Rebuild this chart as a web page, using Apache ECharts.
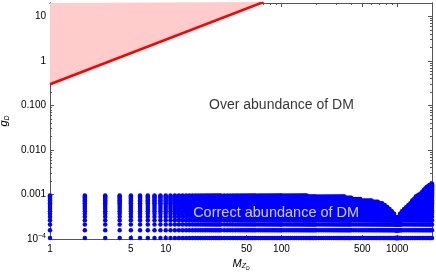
<!DOCTYPE html>
<html><head><meta charset="utf-8">
<script src="https://cdn.jsdelivr.net/npm/echarts@6/dist/echarts.min.js"></script>
<style>html,body{margin:0;padding:0;background:#fff}#c{width:436px;height:277px}</style>
</head><body><div id="c"></div>
<script>
// ---- data ----
const masses = [1,2,3,4,5,6,7,8,9,10,11,12,13,14,15,16,17,18,19,20,21,22,23,24,25,26,27,28,29,30,
  32,34,36,38,40,42,44,46,48,50,52,54,56,58,60,
  63,66,69,72,75,78,81,84,87,90,93,96,99,
  100,105,110,115,120,125,130,135,140,145,150,155,160,165,
  170,175,180,185,190,195,200,
  210,220,230,240,250,260,270,280,290,300,310,320,330,340,
  350,360,370,380,390,400,
  420,440,460,480,
  500,520,540,560,580,600,
  620,640,660,680,
  700,720,740,760,780,800,820,840,860,880,900,920,940,960,970,
  980,985,990,995,1000,1005,1010,1020,1030,1040,1060,1080,1100,
  1150,1200,1250,1300,1350,1400,1450,1500,1550,1600,1650,1700,1750,1800,1850,1900,1950,2000];
const gMax = [9e-4,9e-4,9e-4,9e-4,9e-4,9e-4,9e-4,9e-4,9e-4,9e-4,9e-4,9e-4,9e-4,9e-4,9e-4,9e-4,9e-4,9e-4,9e-4,9e-4,9e-4,9e-4,9e-4,9e-4,9e-4,9e-4,9e-4,9e-4,9e-4,9e-4,
  9e-4,9e-4,9e-4,9e-4,9e-4,9e-4,9e-4,9e-4,9e-4,9e-4,9e-4,9e-4,9e-4,9e-4,9e-4,
  9e-4,9e-4,9e-4,9e-4,9e-4,9e-4,9e-4,9e-4,9e-4,9e-4,9e-4,9e-4,9e-4,
  9e-4,9e-4,9e-4,9e-4,9e-4,9e-4,9e-4,9e-4,9e-4,9e-4,9e-4,9e-4,9e-4,9e-4,
  8.5e-4,8.5e-4,8.5e-4,8.5e-4,8.5e-4,8.5e-4,8.5e-4,
  8.5e-4,8.5e-4,8.5e-4,8.5e-4,8.5e-4,8.5e-4,8.5e-4,8.5e-4,8.5e-4,8.5e-4,8.5e-4,8.5e-4,8.5e-4,8.5e-4,
  8.5e-4,8e-4,8e-4,8e-4,8e-4,8e-4,
  7.5e-4,7.5e-4,7.5e-4,7.5e-4,
  7e-4,7e-4,7e-4,7e-4,7e-4,7e-4,
  6.5e-4,6.5e-4,6.5e-4,6.5e-4,
  6e-4,6e-4,6e-4,5.5e-4,5.5e-4,5e-4,5e-4,4.5e-4,4.5e-4,4e-4,4e-4,3.5e-4,3.5e-4,3e-4,2.5e-4,
  2.5e-4,2e-4,2e-4,1.5e-4,1e-4,1.5e-4,2e-4,2.5e-4,3e-4,3e-4,3.5e-4,3.5e-4,4e-4,
  4.5e-4,5e-4,5.5e-4,6e-4,7e-4,7.5e-4,8.5e-4,9e-4,9.5e-4,1e-3,1.1e-3,1.2e-3,1.3e-3,1.4e-3,1.45e-3,1.55e-3,1.6e-3,1.65e-3];
const gRows = [1e-4,1.5e-4,2e-4,2.5e-4,3e-4,3.5e-4,4e-4,4.5e-4,5e-4,5.5e-4,6e-4,6.5e-4,7e-4,7.5e-4,8e-4,8.5e-4,
  9e-4,9.5e-4,1e-3,1.05e-3,1.1e-3,1.15e-3,1.2e-3,1.25e-3,1.3e-3,1.35e-3,1.4e-3,1.45e-3,1.5e-3,1.55e-3,1.6e-3,1.65e-3];
const boundM = [1, 70];
const boundG = [0.3, 21];
const xMajorTicks = [1,5,10,50,100,500,1000];
const xMinorTicks = [2,3,4,6,7,8,9,20,30,40,60,70,80,90,200,300,400,600,700,800,900,2000];
const yMajorTicks = [1e-4,1e-3,1e-2,1e-1,1,10];
const yMinorTicks = [2e-4,3e-4,4e-4,5e-4,6e-4,7e-4,8e-4,9e-4,
  2e-3,3e-3,4e-3,5e-3,6e-3,7e-3,8e-3,9e-3,
  0.02,0.03,0.04,0.05,0.06,0.07,0.08,0.09,
  0.2,0.3,0.4,0.5,0.6,0.7,0.8,0.9,
  2,3,4,5,6,7,8,9,20];
const annotM = [100, 90];
const annotG = [0.1, 3.9e-4];
const annotText = ['Over abundance of DM', 'Correct abundance of DM'];

// ---- build ----
const FONT = '"Liberation Sans", Arial, Helvetica, sans-serif';
const AX = '#555';
const dots = [];
masses.forEach((m, i) => {
  gRows.forEach(g => { if (g <= gMax[i] * (1 + 1e-9)) dots.push([m, g]); });
});
const boundData = boundM.map((m, i) => [m, boundG[i]]);

function xAx(pos, ticks, len, labels) {
  return {
    type: 'log', logBase: 10, min: 1, max: 2000, position: pos, gridIndex: 0,
    axisLine: {show: true, onZero: false, lineStyle: {color: AX, width: 1}},
    axisTick: {show: true, inside: true, length: len, customValues: ticks, lineStyle: {color: AX, width: 1}},
    axisLabel: labels ? {show: true, customValues: ticks, margin: 5, color: '#000', fontSize: 10, fontFamily: FONT,
      formatter: v => String(Math.round(v))} : {show: false},
    splitLine: {show: false}, minorTick: {show: false}, minorSplitLine: {show: false},
    name: labels ? '{m|M}{z|Z}{d|D}' : '', nameLocation: 'middle', nameGap: 17,
    nameTextStyle: {rich: {
      m: {fontSize: 11, fontStyle: 'italic', fontFamily: FONT, color: '#000'},
      z: {fontSize: 7, fontStyle: 'italic', fontFamily: FONT, color: '#000', verticalAlign: 'top', padding: [5, 0, 0, 0]},
      d: {fontSize: 5, fontStyle: 'italic', fontFamily: FONT, color: '#000', verticalAlign: 'top', padding: [8, 0, 0, 0]}
    }}
  };
}
function yAx(pos, ticks, len, labels) {
  const map = {'1': '10', '0': '1', '-1': '0.100', '-2': '0.010', '-3': '0.001'};
  return {
    type: 'log', logBase: 10, min: 1e-4, max: 20, position: pos, gridIndex: 0,
    axisLine: {show: true, onZero: false, lineStyle: {color: AX, width: 1}},
    axisTick: {show: true, inside: true, length: len, customValues: ticks, lineStyle: {color: AX, width: 1}},
    axisLabel: labels ? {show: true, customValues: ticks, margin: 4, color: '#000', fontSize: 10, fontFamily: FONT,
      formatter: v => { const e = Math.round(Math.log10(v)); return e === -4 ? '10{s|−4}' : map[String(e)]; },
      rich: {s: {fontSize: 7, fontFamily: FONT, color: '#000', verticalAlign: 'bottom', padding: [0, 0, 6, 0]}}
    } : {show: false},
    splitLine: {show: false}, minorTick: {show: false}, minorSplitLine: {show: false},
    name: labels ? '{g|g}{d|D}' : '', nameLocation: 'middle', nameGap: 35,
    nameTextStyle: {rich: {
      g: {fontSize: 11, fontStyle: 'italic', fontFamily: FONT, color: '#000'},
      d: {fontSize: 7, fontStyle: 'italic', fontFamily: FONT, color: '#000', verticalAlign: 'top', padding: [6, 0, 0, 0]}
    }}
  };
}

const chart = echarts.init(document.getElementById('c'), null, {renderer: 'canvas'});
chart.setOption({
  animation: false,
  backgroundColor: '#fff',
  grid: {left: 50, right: 4, top: 3, bottom: 38, containLabel: false, outerBoundsMode: 'none'},
  xAxis: [xAx('bottom', xMajorTicks, 4, true), xAx('bottom', xMinorTicks, 2, false),
          xAx('top', xMajorTicks, 4, false), xAx('top', xMinorTicks, 2, false)],
  yAxis: [yAx('left', yMajorTicks, 4, true), yAx('left', yMinorTicks, 2, false),
          yAx('right', yMajorTicks, 4, false), yAx('right', yMinorTicks, 2, false)],
  series: [
    {type: 'line', data: boundData, xAxisIndex: 0, yAxisIndex: 0, symbol: 'none', clip: true,
      lineStyle: {color: '#ff0000', width: 2.6},
      areaStyle: {color: '#ffcccc', opacity: 1, origin: 'end'}, z: 2},
    {type: 'scatter', data: dots, xAxisIndex: 0, yAxisIndex: 0, symbol: 'circle', symbolSize: 4.5,
      symbolOffset: [0, -1], itemStyle: {color: '#0000ff', opacity: 1}, clip: true, z: 3, large: false},
    {type: 'scatter', xAxisIndex: 0, yAxisIndex: 0, symbolSize: 0, z: 5, silent: true,
      data: annotM.map((m, i) => ({value: [m, annotG[i]], label: {
        show: true, position: 'inside', formatter: annotText[i], fontFamily: FONT,
        fontSize: i === 0 ? 14 : 14.5, color: i === 0 ? '#000' : '#fff'}}))}
  ]
});
</script></body></html>
